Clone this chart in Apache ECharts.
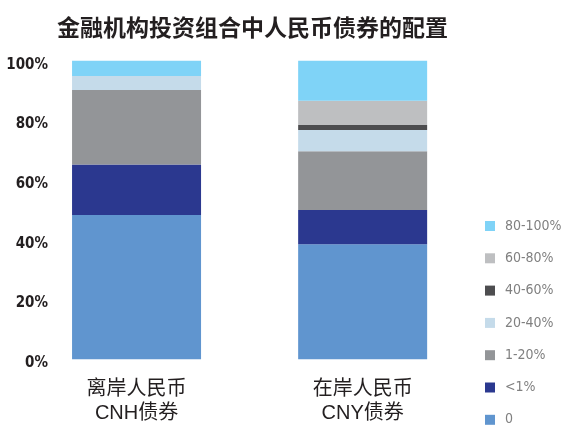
<!DOCTYPE html>
<html>
<head>
<meta charset="utf-8">
<script src="https://cdn.jsdelivr.net/npm/echarts@6/dist/echarts.min.js"></script>
<style>html,body{margin:0;padding:0;background:#fff;}#c{width:561px;height:428px;}</style>
</head>
<body>
<div id="c"></div>
<script>
const categories = ['离岸人民币\nCNH债券', '在岸人民币\nCNY债券'];
const seriesNames = ['0', '<1%', '1-20%', '20-40%', '40-60%', '60-80%', '80-100%'];
const v0 = [48.3, 38.5];
const vLt1 = [16.9, 11.5];
const v1to20 = [25.0, 19.7];
const v20to40 = [4.7, 7.1];
const v40to60 = [0, 1.7];
const v60to80 = [0, 8.1];
const v80to100 = [5.1, 13.4];
const yTicks = [0, 20, 40, 60, 80, 100];

const values = [v0, vLt1, v1to20, v20to40, v40to60, v60to80, v80to100];
const colors = ['#6095cf', '#2b388f', '#939598', '#c5dbea', '#4d4d4f', '#bebfc1', '#7fd3f7'];
const condensed = "'DejaVu Sans Condensed', 'Liberation Sans', sans-serif";

const chart = echarts.init(document.getElementById('c'));
chart.setOption({
  animation: false,
  backgroundColor: '#fff',
  title: {
    text: '金融机构投资组合中人民币债券的配置',
    left: 52, top: 11,
    textStyle: { fontFamily: 'Noto Sans CJK SC', fontWeight: 'bold', fontSize: 23, color: '#231f20' }
  },
  legend: {
    orient: 'vertical',
    left: 485, top: 218,
    padding: 0,
    itemWidth: 10, itemHeight: 10, itemGap: 16.3,
    data: seriesNames.slice().reverse(),
    icon: 'rect',
    textStyle: { fontFamily: condensed, fontSize: 14, color: '#808080', lineHeight: 16, padding: [0, 0, 0, 5] }
  },
  grid: { left: 23.5, right: 85.3, top: 60.7, bottom: 68.7 },
  xAxis: {
    type: 'category',
    data: categories,
    axisLine: { show: false },
    axisTick: { show: false },
    axisLabel: { margin: 18, fontFamily: "'Liberation Sans', 'Noto Sans CJK SC'", fontSize: 20, lineHeight: 24, color: '#231f20' }
  },
  yAxis: {
    type: 'value',
    min: yTicks[0], max: yTicks[yTicks.length - 1], interval: 20,
    splitLine: { show: false },
    axisLine: { show: false },
    axisTick: { show: false },
    axisLabel: {
      margin: -24.5, formatter: '{value}%',
      fontFamily: condensed, fontWeight: 'bold', fontSize: 15, color: '#231f20',
      verticalAlign: 'top', lineHeight: 8
    }
  },
  series: seriesNames.map((n, i) => ({
    name: n,
    type: 'bar',
    stack: 'total',
    barWidth: 129,
    data: values[i],
    itemStyle: { color: colors[i] }
  }))
});
</script>
</body>
</html>
